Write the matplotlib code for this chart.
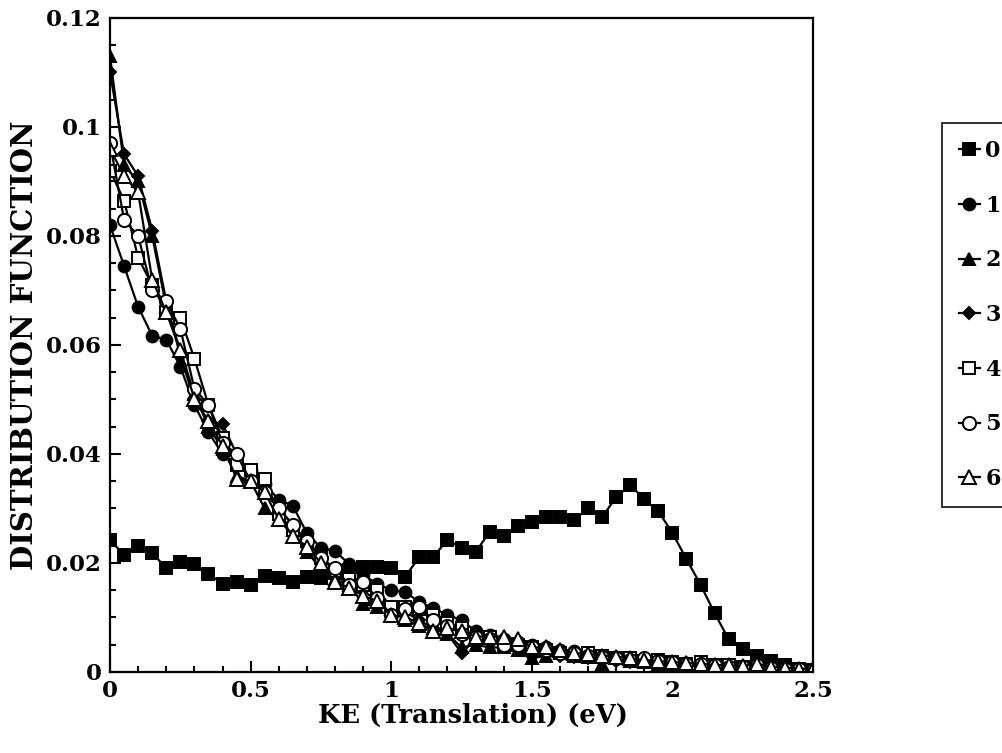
import numpy as np
import matplotlib
matplotlib.use("Agg")
import matplotlib.pyplot as plt
from matplotlib.ticker import MultipleLocator, FuncFormatter

plt.rcParams['font.family'] = 'DejaVu Serif'
plt.rcParams['font.weight'] = 'bold'

# energia de traslacion (eV)
ke = np.linspace(0, 2.5, 51)

tail1 = [0.0050, 0.0045, 0.0040, 0.0038, 0.0033, 0.0030, 0.0027, 0.0025, 0.0022, 0.0020, 0.0018,
         0.0016, 0.0014, 0.0013, 0.0012, 0.0010, 0.0009, 0.0008, 0.0007, 0.0006, 0.0005]
tail2 = [0.0025, 0.0030, 0.0035, 0.0030, 0.0028, 0.0015, 0.0025, 0.0020, 0.0018, 0.0015, 0.0012,
         0.0015, 0.0012, 0.0010, 0.0008, 0.0007, 0.0006, 0.0008, 0.0005, 0.0004, 0.0003]
tail3 = [0.0030, 0.0035, 0.0030, 0.0028, 0.0025, 0.0022, 0.0020, 0.0018, 0.0018, 0.0015, 0.0014,
         0.0012, 0.0011, 0.0010, 0.0009, 0.0008, 0.0007, 0.0006, 0.0005, 0.0004, 0.0003]
tail4 = [0.0045, 0.0040, 0.0035, 0.0030, 0.0035, 0.0030, 0.0025, 0.0025, 0.0020, 0.0022, 0.0018,
         0.0015, 0.0018, 0.0012, 0.0013, 0.0010, 0.0010, 0.0008, 0.0006, 0.0005, 0.0004]
tail5 = [0.0045, 0.0040, 0.0035, 0.0035, 0.0030, 0.0028, 0.0025, 0.0022, 0.0025, 0.0020, 0.0018,
         0.0015, 0.0014, 0.0012, 0.0010, 0.0010, 0.0012, 0.0008, 0.0006, 0.0005, 0.0004]
tail6 = [0.0045, 0.0045, 0.0040, 0.0035, 0.0033, 0.0030, 0.0028, 0.0025, 0.0022, 0.0020, 0.0018,
         0.0017, 0.0015, 0.0013, 0.0012, 0.0011, 0.0015, 0.0010, 0.0008, 0.0006, 0.0006]

s0 = [0.0242, 0.0215, 0.0231, 0.0218, 0.0191, 0.0202, 0.0198, 0.0180, 0.0162, 0.0165,
      0.0160, 0.0176, 0.0172, 0.0165, 0.0174, 0.0172, 0.0182, 0.0188, 0.0193, 0.0193,
      0.0190, 0.0175, 0.0211, 0.0211, 0.0243, 0.0227, 0.0220, 0.0257, 0.0249, 0.0268,
      0.0275, 0.0284, 0.0285, 0.0278, 0.0301, 0.0284, 0.0321, 0.0343, 0.0317, 0.0295,
      0.0255, 0.0207, 0.0160, 0.0108, 0.0060, 0.0042, 0.0029, 0.0020, 0.0012, 0.0006, 0.0003]
s1 = [0.082, 0.0745, 0.067, 0.0617, 0.061, 0.056, 0.049, 0.044, 0.040, 0.038,
      0.0370, 0.0345, 0.0316, 0.0305, 0.0255, 0.0228, 0.0222, 0.0198, 0.0178, 0.0162,
      0.0150, 0.0147, 0.0128, 0.0117, 0.0105, 0.0095, 0.0075, 0.0068, 0.0060, 0.0055] + tail1
s2 = [0.113, 0.093, 0.090, 0.080, 0.067, 0.059, 0.051, 0.045, 0.041, 0.036,
      0.035, 0.030, 0.028, 0.026, 0.022, 0.019, 0.017, 0.016, 0.0125, 0.012,
      0.0115, 0.0095, 0.0085, 0.008, 0.007, 0.0045, 0.005, 0.0045, 0.0045, 0.004] + tail2
s3 = [0.110, 0.095, 0.091, 0.081, 0.068, 0.058, 0.050, 0.046, 0.0455, 0.040,
      0.036, 0.033, 0.030, 0.027, 0.023, 0.020, 0.018, 0.016, 0.015, 0.013,
      0.012, 0.011, 0.0095, 0.008, 0.007, 0.0035, 0.006, 0.0055, 0.005, 0.004] + tail3
s4 = [0.092, 0.0865, 0.076, 0.071, 0.066, 0.065, 0.0575, 0.049, 0.043, 0.038,
      0.037, 0.0355, 0.029, 0.026, 0.024, 0.021, 0.0185, 0.017, 0.016, 0.015,
      0.012, 0.012, 0.0115, 0.0105, 0.009, 0.008, 0.006, 0.0065, 0.005, 0.005] + tail4
s5 = [0.097, 0.083, 0.080, 0.070, 0.068, 0.063, 0.052, 0.049, 0.042, 0.040,
      0.035, 0.033, 0.030, 0.027, 0.024, 0.021, 0.019, 0.016, 0.0165, 0.0135,
      0.0105, 0.0115, 0.012, 0.0095, 0.0085, 0.007, 0.0065, 0.006, 0.005, 0.005] + tail5
s6 = [0.096, 0.091, 0.088, 0.072, 0.066, 0.059, 0.050, 0.046, 0.0415, 0.0355,
      0.035, 0.033, 0.028, 0.025, 0.023, 0.020, 0.0165, 0.0155, 0.014, 0.013,
      0.0105, 0.010, 0.009, 0.0075, 0.008, 0.0075, 0.0065, 0.0065, 0.0065, 0.006] + tail6

series = [s0, s1, s2, s3, s4, s5, s6]
labels = ['0', '1', '2', '3', '4', '5', '6']
markers = ['s', 'o', '^', 'D', 's', 'o', '^']
filled = [True, True, True, True, False, False, False]
sizes = [8, 8.5, 8, 6, 9, 9.5, 9.5]

fig = plt.figure(figsize=(10.02, 7.53), dpi=100)
ax = fig.add_axes([0.1098, 0.1076, 0.7016, 0.8685])

handles = []
for y, lab, m, f, ms in zip(series, labels, markers, filled, sizes):
    h, = ax.plot(ke, y, color='black', linewidth=1.6, marker=m, markersize=ms,
                 markerfacecolor='black' if f else 'white', markeredgecolor='black',
                 markeredgewidth=1.4, label=lab)
    handles.append(h)

ax.set_xlim(0, 2.5)
ax.set_ylim(0, 0.12)
ax.xaxis.set_major_locator(MultipleLocator(0.5))
ax.xaxis.set_minor_locator(MultipleLocator(0.1))
ax.yaxis.set_major_locator(MultipleLocator(0.02))
ax.yaxis.set_minor_locator(MultipleLocator(0.005))
ax.xaxis.set_major_formatter(FuncFormatter(lambda v, p: '%g' % round(v, 3)))
ax.yaxis.set_major_formatter(FuncFormatter(lambda v, p: '%g' % round(v, 3)))
ax.tick_params(which='both', direction='in', top=False, right=False, labelsize=16.5, width=1.5)
ax.tick_params(which='major', length=8, pad=6)
ax.tick_params(which='minor', length=4)
for sp in ax.spines.values():
    sp.set_linewidth(1.6)

ax.set_xlabel('KE (Translation) (eV)', fontsize=18.5, fontweight='bold')
ax.xaxis.set_label_coords(0.516, -0.048, transform=ax.transAxes)
ax.set_ylabel('DISTRIBUTION FUNCTION', fontsize=21, fontweight='bold', labelpad=5)

leg = fig.legend(handles=handles, loc='upper left', bbox_to_anchor=(0.940, 0.836),
                 frameon=True, fancybox=False, edgecolor='black', fontsize=16,
                 handlelength=0.95, handletextpad=0.25, labelspacing=1.47,
                 borderpad=0.75, borderaxespad=0)
leg.get_frame().set_linewidth(1.4)

fig.savefig('out.png', dpi=100)
